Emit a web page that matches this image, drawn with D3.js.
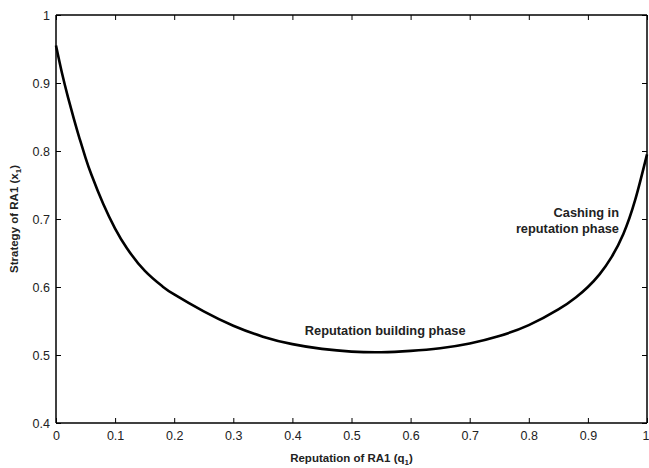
<!DOCTYPE html>
<html><head><meta charset="utf-8">
<script src="https://cdn.jsdelivr.net/npm/d3@7"></script>
<style>body{margin:0;background:#fff}svg{display:block}text{font-family:"Liberation Sans",Arial,Helvetica,sans-serif}</style>
</head><body>
<svg id="c" width="649" height="468"></svg>
<script>
const reputation = [0,0.01,0.02,0.03,0.04,0.05,0.06,0.08,0.10,0.12,0.15,0.18,0.20,0.25,0.30,0.35,0.40,0.45,0.50,0.55,0.60,0.65,0.70,0.75,0.80,0.85,0.88,0.90,0.92,0.94,0.96,0.98,1.00];
const strategy   = [0.955,0.915,0.880,0.848,0.818,0.790,0.765,0.722,0.686,0.657,0.624,0.601,0.589,0.564,0.543,0.527,0.516,0.509,0.505,0.504,0.506,0.510,0.517,0.528,0.544,0.567,0.585,0.600,0.619,0.644,0.678,0.728,0.795];
const xTicks = [0,0.1,0.2,0.3,0.4,0.5,0.6,0.7,0.8,0.9,1];
const yTicks = [0.4,0.5,0.6,0.7,0.8,0.9,1];
const xTickLabels = ["0","0.1","0.2","0.3","0.4","0.5","0.6","0.7","0.8","0.9","1"];
const yTickLabels = ["0.4","0.5","0.6","0.7","0.8","0.9","1"];

const svg = d3.select("#c");
const L=56, R=647, T=15, B=423;
const x = d3.scaleLinear().domain([0,1]).range([L,R]);
const y = d3.scaleLinear().domain([0.4,1]).range([B,T]);
const tl = 5;

const gB = svg.append("g").attr("transform",`translate(0,${B})`)
  .call(d3.axisBottom(x).tickValues(xTicks).tickFormat((d,i)=>xTickLabels[i]).tickSizeInner(-tl).tickSizeOuter(0).tickPadding(8));
const gT = svg.append("g").attr("transform",`translate(0,${T})`)
  .call(d3.axisTop(x).tickValues(xTicks).tickFormat("").tickSizeInner(-tl).tickSizeOuter(0));
const gL = svg.append("g").attr("transform",`translate(${L},0)`)
  .call(d3.axisLeft(y).tickValues(yTicks).tickFormat((d,i)=>yTickLabels[i]).tickSizeInner(-tl).tickSizeOuter(0).tickPadding(6));
const gR = svg.append("g").attr("transform",`translate(${R},0)`)
  .call(d3.axisRight(y).tickValues(yTicks).tickFormat("").tickSizeInner(-tl).tickSizeOuter(0));
[gB,gT,gL,gR].forEach(g=>{
  g.select(".domain").attr("stroke","#000").attr("stroke-width",1.5);
  g.selectAll(".tick line").attr("stroke","#000").attr("stroke-width",1);
  g.selectAll("text").attr("font-size",12.5).attr("fill","#222").style("font-family",'"Liberation Sans",Arial,sans-serif');
});
gB.selectAll(".tick text").filter(d=>d===1).attr("text-anchor","end").attr("x",2);
gB.selectAll(".domain").attr("d",`M${L},0H${R}`);
gT.selectAll(".domain").attr("d",`M${L},0H${R}`);
gL.selectAll(".domain").attr("d",`M0,${T}V${B}`);
gR.selectAll(".domain").attr("d",`M0,${T}V${B}`);

const pts = reputation.map((q,i)=>[q,strategy[i]]);
svg.append("path").datum(pts)
  .attr("fill","none").attr("stroke","#000").attr("stroke-width",2.6)
  .attr("d",d3.line().x(d=>x(d[0])).y(d=>y(d[1])).curve(d3.curveNatural));

const xt = svg.append("text").attr("x",(L+R)/2).attr("y",462).attr("text-anchor","middle")
  .attr("font-size",11.5).attr("font-weight","bold").attr("fill","#222");
xt.append("tspan").text("Reputation of RA1 (q");
xt.append("tspan").text("1").attr("font-size",8).attr("dy",3);
xt.append("tspan").text(")").attr("dy",-3);

const yt = svg.append("text").attr("transform",`translate(18,${(T+B)/2}) rotate(-90)`).attr("text-anchor","middle")
  .attr("font-size",11.5).attr("font-weight","bold").attr("fill","#222");
yt.append("tspan").text("Strategy of RA1 (x");
yt.append("tspan").text("1").attr("font-size",8).attr("dy",3);
yt.append("tspan").text(")").attr("dy",-3);

svg.append("text").attr("x",x(0.557)).attr("y",y(0.535)+4).attr("text-anchor","middle")
  .attr("font-size",12.8).attr("font-weight","bold").attr("fill","#222").text("Reputation building phase");
svg.append("text").attr("x",619).attr("y",y(0.709)+4).attr("text-anchor","end")
  .attr("font-size",12.8).attr("font-weight","bold").attr("fill","#222").text("Cashing in");
svg.append("text").attr("x",619).attr("y",y(0.685)+4).attr("text-anchor","end")
  .attr("font-size",12.8).attr("font-weight","bold").attr("fill","#222").text("reputation phase");
</script>
</body></html>
